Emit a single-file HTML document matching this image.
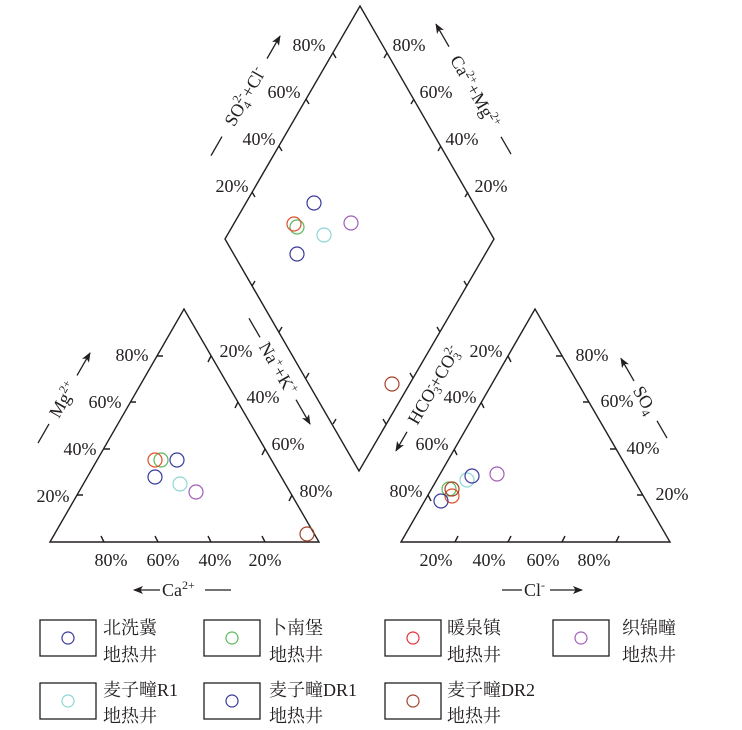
<!DOCTYPE html>
<html><head><meta charset="utf-8"><style>
html,body{margin:0;padding:0;background:#fff;}
svg{display:block;}
text{font-family:"Liberation Serif","Noto Serif CJK SC",serif;fill:#231f20;}
.p{font-size:18px;}
.cj{font-family:"Liberation Serif","Noto Sans CJK SC",sans-serif;font-size:18px;}
</style></head><body>
<svg width="742" height="730" viewBox="0 0 742 730" xmlns="http://www.w3.org/2000/svg">
<defs>
<marker id="ah" markerWidth="10" markerHeight="8" refX="9" refY="4" orient="auto" markerUnits="userSpaceOnUse">
<path d="M0,0 L10,4 L0,8 L2.5,4 Z" fill="#231f20"/></marker>
</defs>
<g stroke="#231f20" stroke-width="1.4" fill="none">
<polygon points="50,542 184,309 319,542"/>
<polygon points="401,542 535,309 670,542"/>
<polygon points="360,6 494,239 359,471 225,239"/>
<path d="M77,495 h6 M104,449 h6 M130,402 h6 M157,356 h6"/>
<path d="M104,542 l-3,-6 M158,542 l-3,-6 M211,542 l-3,-6 M265,542 l-3,-6"/>
<path d="M211,356 l-3,6 M238,402 l-3,6 M265,449 l-3,6 M292,495 l-3,6"/>
<path d="M508,356 l3,6 M481,402 l3,6 M454,449 l3,6 M428,495 l3,6"/>
<path d="M455,542 l3,-6 M508,542 l3,-6 M562,542 l3,-6 M616,542 l3,-6"/>
<path d="M562,356 h-6 M589,402 h-6 M616,449 h-6 M643,495 h-6"/>
<path d="M333,53 l3,5 M306,99 l3,5 M279,146 l3,5 M252,192 l3,5"/>
<path d="M387,53 l-3,5 M414,99 l-3,5 M441,146 l-3,5 M468,192 l-3,5"/>
<path d="M252,286 l3,-5 M279,332 l3,-5 M306,378 l3,-5 M333,424 l3,-5"/>
<path d="M467,286 l-3,-5 M440,332 l-3,-5 M413,378 l-3,-5 M386,424 l-3,-5"/>
</g>
<g class="p" text-anchor="middle">
<text x="132" y="361">80%</text><text x="105" y="408">60%</text><text x="80" y="455">40%</text><text x="53" y="502">20%</text>
<text x="111" y="566">80%</text><text x="163" y="566">60%</text><text x="215" y="566">40%</text><text x="265" y="566">20%</text>
<text x="236" y="357">20%</text><text x="263" y="403">40%</text><text x="288" y="450">60%</text><text x="316" y="497">80%</text>
<text x="486" y="357">20%</text><text x="460" y="403">40%</text><text x="432" y="450">60%</text><text x="406" y="497">80%</text>
<text x="592" y="361">80%</text><text x="617" y="407">60%</text><text x="643" y="454">40%</text><text x="672" y="500">20%</text>
<text x="436" y="566">20%</text><text x="489" y="566">40%</text><text x="543" y="566">60%</text><text x="594" y="566">80%</text>
<text x="309" y="51">80%</text><text x="284" y="98">60%</text><text x="259" y="145">40%</text><text x="232" y="192">20%</text>
<text x="409" y="51">80%</text><text x="436" y="98">60%</text><text x="462" y="145">40%</text><text x="491" y="192">20%</text>
</g>
<g transform="translate(246,95) rotate(-60)" stroke="#231f20" stroke-width="1.3">
<line x1="-70" y1="0" x2="-48" y2="0"/>
<line x1="42" y1="0" x2="68" y2="0" marker-end="url(#ah)"/>
<text x="-2" y="6" text-anchor="middle" stroke="none" font-size="18">SO<tspan font-size="12" dy="4">4</tspan><tspan font-size="12" dy="-12" dx="-6">2-</tspan><tspan dy="8">+Cl</tspan><tspan font-size="12" dy="-7">-</tspan></text>
</g>
<g transform="translate(474,90) rotate(60)" stroke="#231f20" stroke-width="1.3">
<line x1="-50" y1="0" x2="-76" y2="0" marker-end="url(#ah)"/>
<line x1="54" y1="0" x2="74" y2="0"/>
<text x="2" y="6" text-anchor="middle" stroke="none" font-size="18">Ca<tspan font-size="12" dy="-7">2+</tspan><tspan dy="7">+Mg</tspan><tspan font-size="12" dy="-7">2+</tspan></text>
</g>
<g transform="translate(64,398) rotate(-60)" stroke="#231f20" stroke-width="1.3">
<line x1="-52" y1="0" x2="-30" y2="0"/>
<line x1="26" y1="0" x2="52" y2="0" marker-end="url(#ah)"/>
<text x="-2" y="6" text-anchor="middle" stroke="none" font-size="18">Mg<tspan font-size="12" dy="-7">2+</tspan></text>
</g>
<g transform="translate(280,372) rotate(60)" stroke="#231f20" stroke-width="1.3">
<line x1="-62" y1="0" x2="-40" y2="0"/>
<line x1="32" y1="0" x2="60" y2="0" marker-end="url(#ah)"/>
<text x="-4" y="6" text-anchor="middle" stroke="none" font-size="18">Na<tspan font-size="12" dy="-7">+</tspan><tspan dy="7">+K</tspan><tspan font-size="12" dy="-7">+</tspan></text>
</g>
<g transform="translate(434,385) rotate(-60)" stroke="#231f20" stroke-width="1.3">
<line x1="-54" y1="0" x2="-76" y2="0" marker-end="url(#ah)"/>
<text x="0" y="6" text-anchor="middle" stroke="none" font-size="18">HCO<tspan font-size="12" dy="4">3</tspan><tspan font-size="12" dy="-11" dx="-6">-</tspan><tspan dy="7">+CO</tspan><tspan font-size="12" dy="4">3</tspan><tspan font-size="12" dy="-11" dx="-6">2-</tspan></text>
</g>
<g transform="translate(645,400) rotate(60)" stroke="#231f20" stroke-width="1.3">
<line x1="-22" y1="0" x2="-48" y2="0" marker-end="url(#ah)"/>
<line x1="24" y1="0" x2="44" y2="0"/>
<text x="0" y="6" text-anchor="middle" stroke="none" font-size="18">SO<tspan font-size="12" dy="4">4</tspan></text>
</g>
<g stroke="#231f20" stroke-width="1.3">
<line x1="160" y1="590" x2="134" y2="590" marker-end="url(#ah)"/>
<line x1="205" y1="590" x2="231" y2="590"/>
<line x1="502" y1="590" x2="522" y2="590"/>
<line x1="550" y1="590" x2="582" y2="590" marker-end="url(#ah)"/>
</g>
<text x="162" y="596" font-size="18">Ca<tspan font-size="12" dy="-7">2+</tspan></text>
<text x="524" y="596" font-size="18">Cl<tspan font-size="12" dy="-7">-</tspan></text>
<g fill="none" stroke-width="1.2">
<circle cx="314" cy="203" r="7" stroke="#3a3a9c"/>
<circle cx="297" cy="227" r="7" stroke="#5cb85c"/>
<circle cx="294" cy="224" r="7" stroke="#e0502a"/>
<circle cx="324" cy="235" r="7" stroke="#8fd6d6"/>
<circle cx="351" cy="223" r="7" stroke="#a25fb8"/>
<circle cx="297" cy="254" r="7" stroke="#3a3a9c"/>
<circle cx="392" cy="384" r="7" stroke="#a0442a"/>
<circle cx="161" cy="460" r="7" stroke="#5cb85c"/>
<circle cx="155" cy="460" r="7" stroke="#e0502a"/>
<circle cx="177" cy="460" r="7" stroke="#3a3a9c"/>
<circle cx="155" cy="477" r="7" stroke="#3a3a9c"/>
<circle cx="180" cy="484" r="7" stroke="#8fd6d6"/>
<circle cx="196" cy="492" r="7" stroke="#a25fb8"/>
<circle cx="307" cy="534" r="7" stroke="#a0442a"/>
<circle cx="497" cy="474" r="7" stroke="#a25fb8"/>
<circle cx="467" cy="480" r="7" stroke="#8fd6d6"/>
<circle cx="472" cy="476" r="7" stroke="#3a3a9c"/>
<circle cx="449" cy="489" r="7" stroke="#5cb85c"/>
<circle cx="452" cy="496" r="7" stroke="#e0502a"/>
<circle cx="452" cy="489" r="7" stroke="#a0442a"/>
<circle cx="441" cy="501" r="7" stroke="#3a3a9c"/>
</g>
<g fill="none" stroke="#231f20" stroke-width="1.3">
<rect x="40" y="620" width="56" height="36"/><rect x="204" y="620" width="56" height="36"/>
<rect x="385" y="620" width="56" height="36"/><rect x="553" y="620" width="56" height="36"/>
<rect x="40" y="683" width="56" height="36"/><rect x="204" y="683" width="56" height="36"/>
<rect x="385" y="683" width="56" height="36"/>
</g>
<g fill="none" stroke-width="1.2">
<circle cx="68" cy="638" r="6" stroke="#3a3a9c"/>
<circle cx="232" cy="638" r="6" stroke="#5cb85c"/>
<circle cx="413" cy="638" r="6" stroke="#e8303a"/>
<circle cx="581" cy="638" r="6" stroke="#a25fb8"/>
<circle cx="68" cy="701" r="6" stroke="#8fd6d6"/>
<circle cx="232" cy="701" r="6" stroke="#3a3a9c"/>
<circle cx="413" cy="701" r="6" stroke="#a0442a"/>
</g>
<g class="cj">
<text x="103" y="634">北洗冀</text><text x="103" y="661">地热井</text>
<text x="269" y="634">卜南堡</text><text x="269" y="661">地热井</text>
<text x="447" y="634">暖泉镇</text><text x="447" y="661">地热井</text>
<text x="622" y="634">织锦疃</text><text x="622" y="661">地热井</text>
<text x="103" y="696">麦子疃R1</text><text x="103" y="722">地热井</text>
<text x="269" y="696">麦子疃DR1</text><text x="269" y="722">地热井</text>
<text x="447" y="696">麦子疃DR2</text><text x="447" y="722">地热井</text>
</g>
</svg>
</body></html>
